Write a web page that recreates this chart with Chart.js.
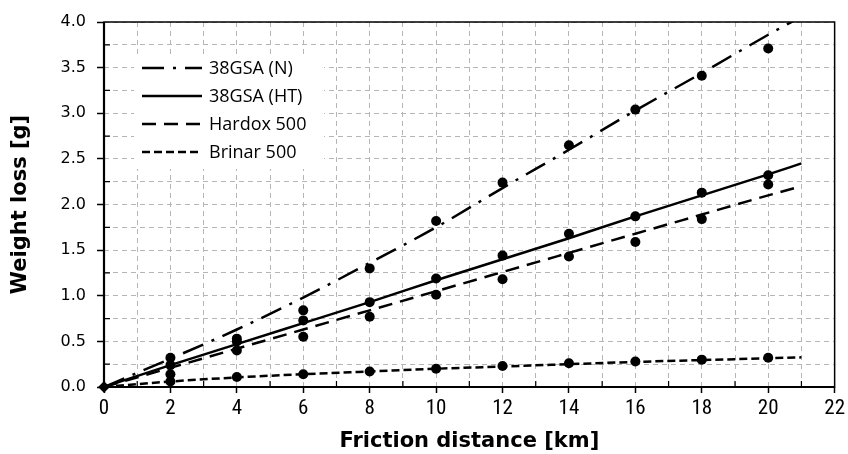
<!DOCTYPE html>
<html>
<head>
<meta charset="utf-8">
<title>Weight loss vs friction distance</title>
<script src="https://cdn.jsdelivr.net/npm/chart.js@4.4.1/dist/chart.umd.min.js"></script>
<style>
  html, body { margin: 0; padding: 0; background: #fff; }
</style>
</head>
<body>
<canvas id="wearChart" width="848" height="454"></canvas>
<script>
/**
 * ----------- DATA ---------------------------
 */
const distances = [0, 2, 4, 6, 8, 10, 12, 14, 16, 18, 20];
const loss38gsaN = [0, 0.32, 0.53, 0.84, 1.30, 1.82, 2.24, 2.65, 3.04, 3.41, 3.71];
const loss38gsaHT = [0, 0.24, 0.50, 0.73, 0.93, 1.19, 1.44, 1.68, 1.87, 2.13, 2.32];
const lossHardox = [0, 0.14, 0.40, 0.55, 0.77, 1.01, 1.18, 1.43, 1.59, 1.84, 2.22];
const lossBrinar = [0, 0.06, 0.11, 0.14, 0.17, 0.20, 0.23, 0.26, 0.28, 0.30, 0.32];

// trend lines
const fitDistances = [0, 2, 4, 6, 8, 10, 12, 14, 16, 18, 20, 21];
const fit38gsaN = [0, 0.31, 0.63, 0.98, 1.36, 1.75, 2.18, 2.60, 3.03, 3.44, 3.86, 4.06];
const fit38gsaHT = [0, 0.24, 0.47, 0.70, 0.93, 1.17, 1.40, 1.63, 1.87, 2.10, 2.33, 2.45];
const fitHardox = [0, 0.21, 0.42, 0.63, 0.84, 1.05, 1.26, 1.47, 1.68, 1.89, 2.10, 2.20];
const fitBrinar = [0, 0.06, 0.105, 0.14, 0.17, 0.20, 0.225, 0.25, 0.275, 0.295, 0.315, 0.325];

const seriesNames = ['38GSA (N)', '38GSA (HT)', 'Hardox 500', 'Brinar 500'];
const xTicks = [0, 2, 4, 6, 8, 10, 12, 14, 16, 18, 20, 22];
const yTicks = [0, 0.5, 1.0, 1.5, 2.0, 2.5, 3.0, 3.5, 4.0];
/** ----------- DATA ---------------- */

const toXY = (xs, ys) => xs.map((x, i) => ({ x: x, y: ys[i] }));

const dashes = [[22, 9, 3, 9], [], [14, 8], [8, 4]];
const fits = [fit38gsaN, fit38gsaHT, fitHardox, fitBrinar];
const measures = [loss38gsaN, loss38gsaHT, lossHardox, lossBrinar];

let datasets = [];
fits.forEach((f, i) => {
  datasets.push({
    label: seriesNames[i],
    data: toXY(fitDistances, f),
    showLine: true,
    borderColor: '#000',
    borderWidth: 2.5,
    borderDash: dashes[i],
    borderCapStyle: 'butt',
    pointRadius: 0,
    cubicInterpolationMode: 'monotone',
    clip: 0,
    isFit: true
  });
});
measures.forEach((m, i) => {
  datasets.push({
    label: seriesNames[i] + ' pts',
    data: toXY(distances, m),
    showLine: false,
    backgroundColor: '#000',
    borderWidth: 0,
    pointStyle: (c) => c.dataIndex === 0 ? 'rectRot' : 'circle',
    pointRadius: (c) => c.dataIndex === 0 ? 5.5 : 5,
    clip: false
  });
});

/**
 * ------------ PLUGINS ----------------------------------------------
 * Cadre du graphe, petites graduations et légende dans la zone de tracé.
 */
const framePlugin = {
  id: 'frame',
  afterDatasetsDraw(chart) {
    const { ctx, chartArea: a, scales } = chart;
    ctx.save();
    ctx.setLineDash([]);
    ctx.strokeStyle = '#000';
    // minor ticks, inside
    ctx.lineWidth = 1.2;
    ctx.beginPath();
    scales.y.ticks.forEach(t => {
      if (!yTicks.includes(t.value)) {
        const py = scales.y.getPixelForValue(t.value);
        ctx.moveTo(a.left, py);
        ctx.lineTo(a.left + 6, py);
      }
    });
    scales.x.ticks.forEach(t => {
      if (!xTicks.includes(t.value)) {
        const px = scales.x.getPixelForValue(t.value);
        ctx.moveTo(px, a.bottom);
        ctx.lineTo(px, a.bottom - 6);
      }
    });
    ctx.stroke();
    // frame
    ctx.lineWidth = 1.5;
    ctx.strokeRect(a.left, a.top, a.right - a.left, a.bottom - a.top);
    ctx.lineWidth = 2.2;
    ctx.beginPath();
    ctx.moveTo(a.left, a.top);
    ctx.lineTo(a.left, a.bottom);
    ctx.lineTo(a.right, a.bottom);
    ctx.stroke();
    ctx.restore();
  }
};

const legendPlugin = {
  id: 'innerLegend',
  afterDraw(chart) {
    const { ctx } = chart;
    ctx.save();
    ctx.fillStyle = '#fff';
    ctx.fillRect(134, 54, 190, 115);
    ctx.font = '18px "Open Sans"';
    ctx.textBaseline = 'middle';
    ctx.textAlign = 'left';
    chart.data.datasets.filter(d => d.isFit).forEach((d, i) => {
      const y = 68 + i * 28;
      ctx.strokeStyle = '#000';
      ctx.lineWidth = 2.5;
      ctx.lineCap = 'butt';
      ctx.setLineDash(d.borderDash);
      ctx.beginPath();
      ctx.moveTo(142, y);
      ctx.lineTo(202, y);
      ctx.stroke();
      ctx.setLineDash([]);
      ctx.fillStyle = '#000';
      ctx.fillText(d.label, 209, y + 1);
    });
    ctx.restore();
  }
};
/** ------------------- PLUGINS ------------------------------------ */

/**
 * ------------ CHART INIT ----------------------------------------------
 */
const ctx = document.getElementById('wearChart').getContext('2d');

let chart = new Chart(ctx, {
  type: 'scatter',
  data: { datasets: datasets },
  options: {
    responsive: false,
    animation: false,
    devicePixelRatio: 1,
    layout: { padding: { top: 22, right: 10, left: 0, bottom: 0 } },
    plugins: {
      legend: { display: false },
      tooltip: { enabled: false }
    },
    scales: {
      x: {
        type: 'linear',
        min: 0,
        max: 22,
        afterFit: (s) => { s.height = 67; },
        ticks: {
          stepSize: 1,
          autoSkip: false,
          maxRotation: 0,
          padding: 3,
          color: '#000',
          font: { family: "'Roboto Condensed', 'Liberation Sans', sans-serif", size: 21 },
          callback: (v) => xTicks.includes(v) ? String(v) : ''
        },
        grid: {
          color: '#b5b5b5',
          lineWidth: 1,
          tickLength: 6,
          tickWidth: 1.5,
          tickColor: (c) => (c.tick && xTicks.includes(c.tick.value)) ? '#000' : 'rgba(0,0,0,0)',
          tickBorderDash: []
        },
        border: { display: false, dash: [5, 4] },
        title: {
          display: true,
          text: 'Friction distance [km]',
          color: '#000',
          font: { family: "'DejaVu Sans'", size: 21, weight: 'bold' },
          padding: { top: 0, bottom: 0 }
        }
      },
      y: {
        min: 0,
        max: 4,
        afterFit: (s) => { s.width = 104; },
        ticks: {
          stepSize: 0.25,
          autoSkip: false,
          padding: 11,
          color: '#000',
          font: { family: "'DejaVu Sans'", size: 16 },
          callback: (v) => yTicks.includes(v) ? v.toFixed(1) : ''
        },
        grid: {
          color: '#b5b5b5',
          lineWidth: 1,
          tickLength: 7,
          tickWidth: 1.5,
          tickColor: (c) => (c.tick && yTicks.includes(c.tick.value)) ? '#000' : 'rgba(0,0,0,0)',
          tickBorderDash: []
        },
        border: { display: false, dash: [5, 4] },
        title: {
          display: true,
          text: 'Weight loss [g]',
          color: '#000',
          font: { family: "'DejaVu Sans'", size: 21, weight: 'bold' },
          padding: { top: 8, bottom: 0 }
        }
      }
    }
  },
  plugins: [framePlugin, legendPlugin]
});
/** ------------------- CHART INIT ------------------------------------ */
</script>
</body>
</html>
